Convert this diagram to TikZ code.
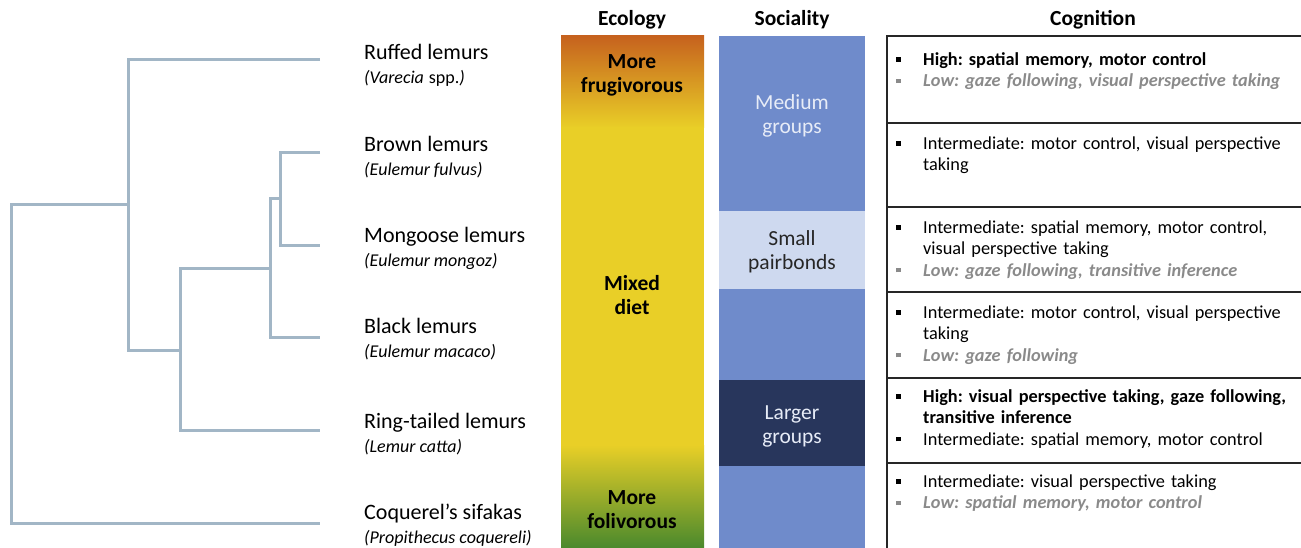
\documentclass[tikz,border=0pt]{standalone}
\usepackage{fontspec}
\setmainfont{Carlito}
\usetikzlibrary{positioning}
\frenchspacing

\definecolor{branchcol}{HTML}{A2B6C6}
\definecolor{ecoorange}{HTML}{C6621E}
\definecolor{ecoyellow}{HTML}{E9CF27}
\definecolor{ecolime}{HTML}{93B02A}
\definecolor{ecogreen}{HTML}{4A892D}
\definecolor{socmid}{HTML}{6F8BCB}
\definecolor{soclight}{HTML}{CED9EF}
\definecolor{socdark}{HTML}{28365C}
\definecolor{lowgray}{HTML}{8A8A8A}

\newcommand{\latinsize}{\fontsize{18}{24}\selectfont}
\newcommand{\latinfont}{\latinsize\itshape}
% one bullet of the cognition column
\newcommand{\cogitem}[2]{\par\hangindent=27pt\hangafter=1\noindent
  {\color{#1}\makebox[27pt][l]{\rule[0.2em]{4.5pt}{4.5pt}}#2}\par}

\begin{document}
\begin{tikzpicture}[x=1pt,y=-1pt,
    branch/.style={draw=branchcol,line width=3pt},
    species/.style={anchor=west,align=left,inner sep=0pt,font=\fontsize{22}{24}\selectfont},
    header/.style={font=\fontsize{21.5}{24}\selectfont\bfseries},
    barlabel/.style={align=center,inner sep=0pt,font=\fontsize{21.5}{24}\selectfont},
    cogrow/.style={anchor=north west,inner sep=0pt,text width=405pt,align=left,
      font=\fontsize{18.3}{21.3}\selectfont},
    cogrule/.style={draw=black!85,line width=1.2pt}]
    \useasboundingbox (0,0) rectangle (1301,548);

    % tree
    \coordinate (lfRuffed) at (320,60);
    \coordinate (lfBrown) at (320,153);
    \coordinate (lfMongoose) at (320,245);
    \coordinate (lfBlack) at (320,337);
    \coordinate (lfRing) at (320,430);
    \coordinate (lfCoq) at (320,523);
    \coordinate (nD) at (280,199);
    \coordinate (nC) at (270,268);
    \coordinate (nB) at (180,350);
    \coordinate (nA) at (128,205);
    \coordinate (root) at (11,523);

    \draw [branch] (lfBrown) -| (nD) |- (lfMongoose);
    \draw [branch] (nD) -| (nC) |- (lfBlack);
    \draw [branch] (nC) -| (nB) |- (lfRing);
    \draw [branch] (lfRuffed) -| (nA) |- (nB);
    \draw [branch] (nA) -| (root) -- (lfCoq);

    % species
    \node [species] (ruffed) at (364,65) {Ruffed lemurs\\{\latinfont(Varecia} {\latinsize spp.}{\latinfont)}};
    \node [species] (brown) at (364,157) {Brown lemurs\\{\latinfont(Eulemur fulvus)}};
    \node [species] (mongoose) at (364,248) {Mongoose lemurs\\{\latinfont(Eulemur mongoz)}};
    \node [species] (black) at (364,339) {Black lemurs\\{\latinfont(Eulemur macaco)}};
    \node [species] (ring) at (364,434) {Ring-tailed lemurs\\{\latinfont(Lemur catta)}};
    \node [species] (coq) at (364,525) {Coquerel’s sifakas\\{\latinfont(Propithecus coquereli)}};

    % headers
    \node [header] (hEco) at (632,20) {Ecology};
    \node [header] (hSoc) at (792,20) {Sociality};
    \node [header] (hCog) at (1093,20) {Cognition};

    % ecology bar
    \shade [top color=ecoorange,bottom color=ecoyellow] (561,36) rectangle (704,128);
    \fill [ecoyellow] (561,127) rectangle (704,446);
    \shade [top color=ecoyellow,middle color=ecolime,bottom color=ecogreen] (561,445) rectangle (704,548);
    \node [barlabel,font=\fontsize{21.5}{24}\selectfont\bfseries] (frug) at (632,75) {More\\frugivorous};
    \node [barlabel,font=\fontsize{21.5}{24}\selectfont\bfseries] (mixed) at (632,295) {Mixed\\diet};
    \node [barlabel,font=\fontsize{21.5}{24}\selectfont\bfseries] (foli) at (632,510) {More\\folivorous};

    % sociality bar
    \fill [socmid] (719,36) rectangle (865,548);
    \fill [soclight] (719,211) rectangle (865,289);
    \fill [socdark] (719,380) rectangle (865,466);
    \node [barlabel,text=soclight!50!white] (medium) at (792,116) {Medium\\groups};
    \node [barlabel,text=black!85] (small) at (792,252) {Small\\pairbonds};
    \node [barlabel,text=soclight!50!white] (larger) at (792,426) {Larger\\groups};

    % cognition column
    \draw [cogrule] (1301,36) -- (887,36) -- (887,548);
    \foreach \y in {123,207,292,378,463}
      \draw [cogrule] (887,\y) -- (1301,\y);

    \node [cogrow] (cog1) at (896,44) {%
      \cogitem{black}{\bfseries High: spatial memory, motor control}
      \cogitem{lowgray}{\bfseries\itshape Low: gaze following, visual perspective taking}};
    \node [cogrow] (cog2) at (896,128) {%
      \cogitem{black}{Intermediate: motor control, visual perspective\newline taking}};
    \node [cogrow] (cog3) at (896,212) {%
      \cogitem{black}{Intermediate: spatial memory, motor control,\newline visual perspective taking}
      \cogitem{lowgray}{\bfseries\itshape Low: gaze following, transitive inference}};
    \node [cogrow] (cog4) at (896,297) {%
      \cogitem{black}{Intermediate: motor control, visual perspective\newline taking}
      \cogitem{lowgray}{\bfseries\itshape Low: gaze following}};
    \node [cogrow] (cog5) at (896,381) {%
      \cogitem{black}{\bfseries High: visual perspective taking, gaze following,\newline transitive inference}
      \cogitem{black}{Intermediate: spatial memory, motor control}};
    \node [cogrow] (cog6) at (896,466) {%
      \cogitem{black}{Intermediate: visual perspective taking}
      \cogitem{lowgray}{\bfseries\itshape Low: spatial memory, motor control}};
\end{tikzpicture}
\end{document}
